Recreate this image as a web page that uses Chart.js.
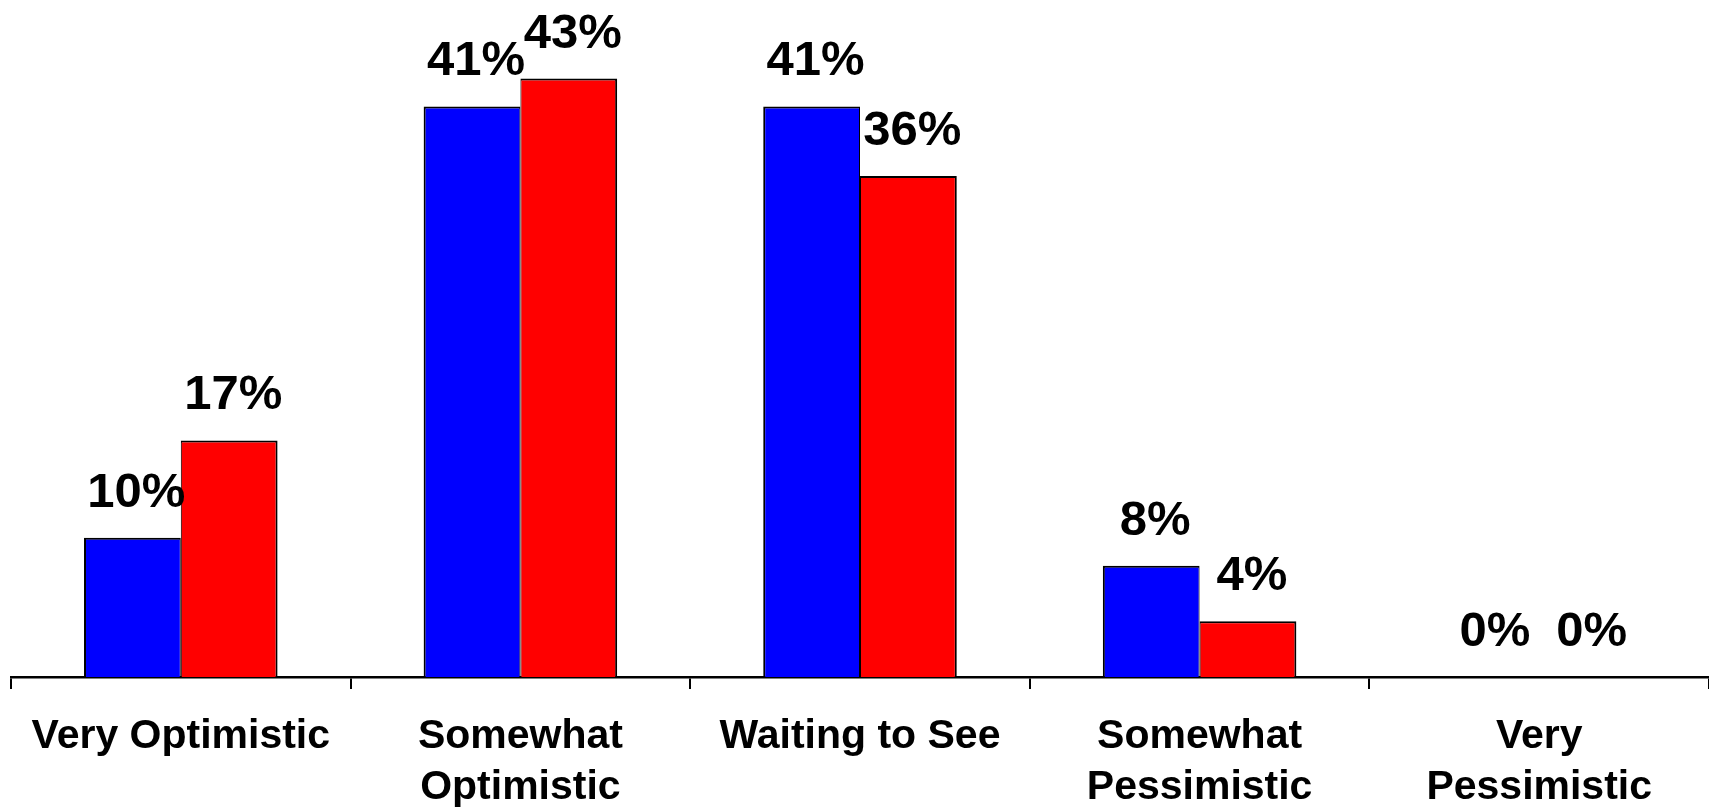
<!DOCTYPE html>
<html>
<head>
<meta charset="utf-8">
<title>Outlook</title>
<script src="https://cdn.jsdelivr.net/npm/chart.js@4/dist/chart.umd.min.js"></script>
<style>
  html, body { margin: 0; padding: 0; background: #ffffff; overflow: hidden; }
  #chart { display: block; }
</style>
</head>
<body>
<canvas id="chart" width="1709" height="811"></canvas>
<script>
// Response categories (multi-line labels as arrays)
const categories = [
  ['Very Optimistic'],
  ['Somewhat', 'Optimistic'],
  ['Waiting to See'],
  ['Somewhat', 'Pessimistic'],
  ['Very', 'Pessimistic']
];

// Percent of respondents per category
const blueValues = [10, 41, 41, 8, 0];
const redValues = [17, 43, 36, 4, 0];

// Value axis range
const valueMin = 0;
const valueMax = 48;

const FONT_FAMILY = "'Liberation Sans', Arial, Helvetica, sans-serif";

// Writes each bar's value above it, centred on the bar
const valueLabels = {
  id: 'valueLabels',
  afterDatasetsDraw(chart) {
    const ctx = chart.ctx;
    ctx.save();
    ctx.fillStyle = '#000000';
    ctx.font = 'bold 49px ' + FONT_FAMILY;
    ctx.textAlign = 'center';
    ctx.textBaseline = 'alphabetic';
    chart.data.datasets.forEach((ds, di) => {
      const meta = chart.getDatasetMeta(di);
      meta.data.forEach((bar, i) => {
        ctx.fillText(ds.data[i] + '%', bar.x + 4, bar.y - 31);
      });
    });
    ctx.restore();
  }
};

new Chart(document.getElementById('chart'), {
  type: 'bar',
  data: {
    labels: categories,
    datasets: [
      {
        label: 'Group A',
        data: blueValues,
        backgroundColor: '#0000ff',
        borderColor: '#000000',
        borderWidth: { top: 2, left: 2, right: 1, bottom: 0 },
        borderSkipped: 'start'
      },
      {
        label: 'Group B',
        data: redValues,
        backgroundColor: '#ff0000',
        borderColor: '#000000',
        borderWidth: { top: 2, left: 1, right: 2, bottom: 0 },
        borderSkipped: 'start'
      }
    ]
  },
  options: {
    responsive: false,
    animation: false,
    events: [],
    layout: { padding: { top: 9, left: 11, right: 0, bottom: 0 } },
    datasets: {
      bar: { categoryPercentage: 0.57, barPercentage: 1.0 }
    },
    plugins: {
      legend: { display: false },
      title: { display: false },
      tooltip: { enabled: false }
    },
    scales: {
      x: {
        offset: true,
        grid: {
          display: true,
          offset: true,
          drawOnChartArea: false,
          drawTicks: true,
          tickLength: 12,
          color: '#000000',
          lineWidth: 2
        },
        border: { display: true, color: '#000000', width: 2.5 },
        ticks: {
          color: '#000000',
          font: { family: FONT_FAMILY, size: 41, weight: 'bold', lineHeight: 1.25 },
          padding: 22,
          maxRotation: 0,
          minRotation: 0,
          autoSkip: false
        },
        afterFit(scale) { scale.height = 134; }
      },
      y: {
        display: false,
        min: valueMin,
        max: valueMax
      }
    }
  },
  plugins: [valueLabels]
});
</script>
</body>
</html>
